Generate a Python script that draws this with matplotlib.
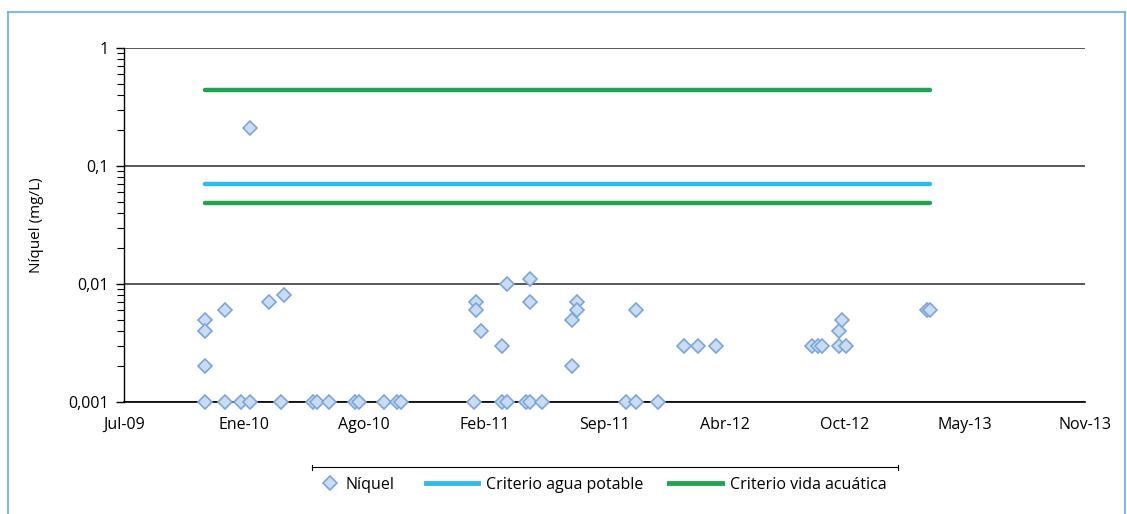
import matplotlib.pyplot as plt
from matplotlib.lines import Line2D
import pandas as pd

plt.rcParams['font.family'] = ['Open Sans', 'DejaVu Sans']

# muestras de níquel (mg/L)
fechas = [
    '2009-11-18', '2009-11-18', '2009-11-18', '2009-11-18',
    '2009-12-21', '2009-12-21',
    '2010-01-17',
    '2010-02-01', '2010-02-01',
    '2010-03-04', '2010-03-25', '2010-03-29',
    '2010-05-16', '2010-05-24', '2010-06-12',
    '2010-07-26', '2010-08-01', '2010-09-12', '2010-10-04', '2010-10-10',
    '2011-02-09',
    '2011-02-12', '2011-02-12',
    '2011-02-20',
    '2011-03-28', '2011-03-28',
    '2011-04-05', '2011-04-05',
    '2011-05-07',
    '2011-05-13', '2011-05-13', '2011-05-13',
    '2011-06-02',
    '2011-07-22', '2011-07-22',
    '2011-07-30', '2011-07-30',
    '2011-10-20',
    '2011-11-05', '2011-11-05',
    '2011-12-12',
    '2012-01-25', '2012-02-16', '2012-03-18',
    '2012-08-25', '2012-09-04', '2012-09-10',
    '2012-10-08', '2012-10-08',
    '2012-10-13', '2012-10-20',
    '2013-03-04', '2013-03-09',
]
niquel = [
    0.005, 0.004, 0.002, 0.001,
    0.006, 0.001,
    0.001,
    0.21, 0.001,
    0.007, 0.001, 0.008,
    0.001, 0.001, 0.001,
    0.001, 0.001, 0.001, 0.001, 0.001,
    0.001,
    0.007, 0.006,
    0.004,
    0.003, 0.001,
    0.01, 0.001,
    0.001,
    0.011, 0.007, 0.001,
    0.001,
    0.005, 0.002,
    0.007, 0.006,
    0.001,
    0.006, 0.001,
    0.001,
    0.003, 0.003, 0.003,
    0.003, 0.003, 0.003,
    0.004, 0.003,
    0.005, 0.003,
    0.006, 0.006,
]

agua_potable = 0.07
vida_acuatica = [0.44, 0.049]

tick_labels = ['Jul-09', 'Ene-10', 'Ago-10', 'Feb-11', 'Sep-11',
               'Abr-12', 'Oct-12', 'May-13', 'Nov-13']

c_agua = '#2ebbee'
c_vida = '#1fa54f'
c_face = '#c9dcf2'
c_edge = '#7aa6dc'

fechas = pd.to_datetime(fechas)
dias = sorted(set(fechas))

W, H = 1127, 514
fig = plt.figure(figsize=(W / 100, H / 100), dpi=100)
ax = fig.add_axes([124 / W, 1 - 402 / H, (1085 - 124) / W, (402 - 48) / H])

ax.plot(dias, [vida_acuatica[0]] * len(dias), color=c_vida, lw=3.2,
        solid_capstyle='round', zorder=3)
ax.plot(dias, [agua_potable] * len(dias), color=c_agua, lw=3.2,
        solid_capstyle='round', zorder=3)
ax.plot(dias, [vida_acuatica[1]] * len(dias), color=c_vida, lw=3.2,
        solid_capstyle='round', zorder=3)
ax.plot(fechas, niquel, ls='none', marker='D', ms=7, mfc=c_face,
        mec=c_edge, mew=1.2, zorder=4, clip_on=False)

ax.set_yscale('log')
ax.set_ylim(0.001, 1)
ax.set_yticks([0.001, 0.01, 0.1, 1])
ax.set_yticklabels(['0,001', '0,01', '0,1', '1'])
ax.yaxis.grid(True, which='major', color='#2a2a2a', lw=1.1)
ax.tick_params(axis='y', which='major', length=6, width=1, pad=5, labelsize=11.5)
ax.tick_params(axis='y', which='minor', length=5, width=0.8)

ticks = pd.date_range('2009-07-06', periods=len(tick_labels), freq='200D')
ax.set_xlim(ticks[0], ticks[-1])
ax.set_xticks(ticks)
ax.set_xticklabels(tick_labels)
ax.tick_params(axis='x', length=0, pad=11, labelsize=11.5)

for s in ['top', 'right']:
    ax.spines[s].set_visible(False)
ax.spines['left'].set_linewidth(1)
ax.spines['bottom'].set_linewidth(1.2)
ax.set_axisbelow(True)

fig.text(36 / W, 1 - 225 / H, 'Níquel (mg/L)', rotation=90, ha='center',
         va='center', fontsize=11)

# marco del gráfico
borde = '#5ab3e6'
fig.add_artist(Line2D([7.5 / W, 7.5 / W], [0, 1 - 12 / H], color=borde, lw=1.2))
fig.add_artist(Line2D([7.5 / W, 1125 / W], [1 - 12 / H, 1 - 12 / H], color=borde, lw=1.2))
fig.add_artist(Line2D([1125 / W, 1125 / W], [0, 1 - 12 / H], color=borde, lw=1.2))

# línea sobre la leyenda
yl = 1 - 467 / H
fig.add_artist(Line2D([312 / W, 898 / W], [yl, yl], color='black', lw=0.8))
for xe in (312, 898):
    fig.add_artist(Line2D([xe / W, xe / W], [yl - 2.5 / H, yl + 2.5 / H],
                          color='black', lw=0.8))

# leyenda: el rombo va en una leyenda aparte para que quede junto al texto
ley_y = 1 - 485 / H
fig.legend([Line2D([], [], ls='none', marker='D', ms=7, mfc=c_face,
                   mec=c_edge, mew=1.2)], ['Níquel'],
           loc='center', bbox_to_anchor=(358 / W, ley_y), frameon=False,
           fontsize=11.5, handlelength=1.0, handletextpad=0.5)
fig.legend([Line2D([], [], color=c_agua, lw=3.5), Line2D([], [], color=c_vida, lw=3.5)],
           ['Criterio agua potable', 'Criterio vida acuática'],
           loc='center', bbox_to_anchor=(656 / W, ley_y), ncol=2, frameon=False,
           fontsize=11.5, handlelength=3.3, handletextpad=0.5, columnspacing=1.6)

fig.savefig('out.png', dpi=100)
